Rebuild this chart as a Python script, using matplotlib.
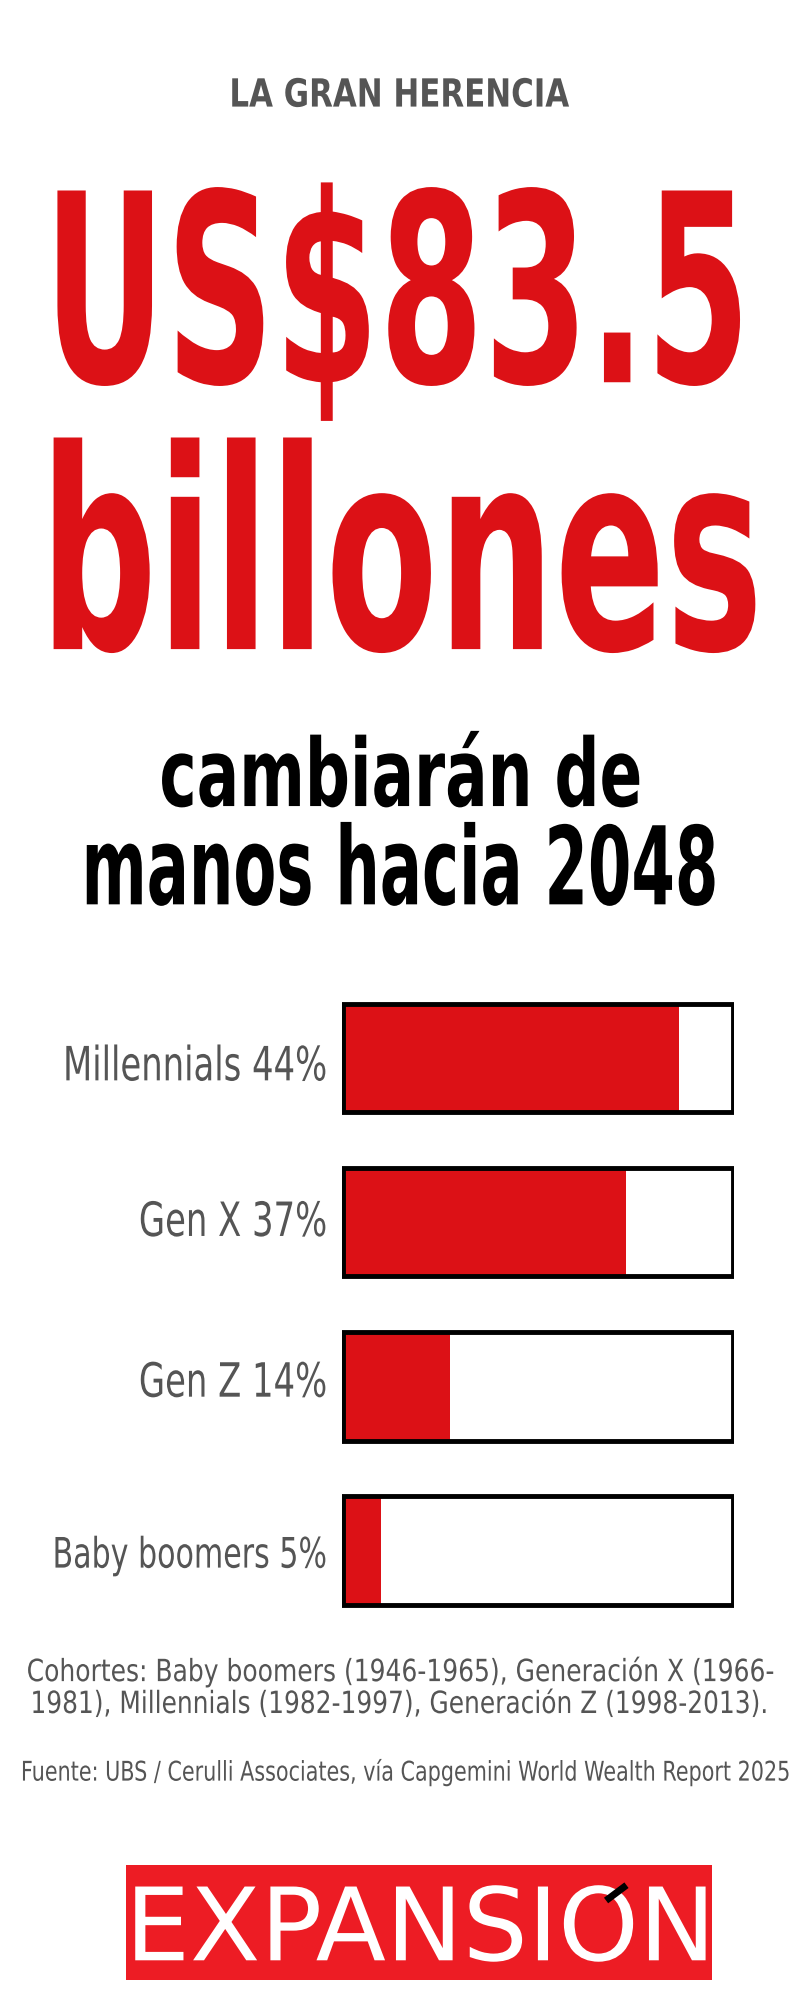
import matplotlib
matplotlib.use("Agg")
import matplotlib.pyplot as plt
from matplotlib.textpath import TextPath
from matplotlib.patches import PathPatch, Rectangle
from matplotlib.font_manager import FontProperties
from matplotlib.transforms import Affine2D

cohortes = ["Millennials", "Gen X", "Gen Z", "Baby boomers"]
porcentajes = [44, 37, 14, 5]
escala_max = 51

RED = "#dc1116"
GRAY = "#555555"
W, H = 627, 1568  # layout units of the reference

fig = plt.figure(figsize=(8, 20), dpi=100)
bg = fig.add_axes([0, 0, 1, 1])
bg.set_xlim(0, W)
bg.set_ylim(H, 0)
bg.axis("off")


def fit_text(ax, s, x0, x1, y0, y1, color, family="DejaVu Sans", weight="bold"):
    # stretch the outline of a text into a box
    fp = FontProperties(family=family, weight=weight)
    tp = TextPath((0, 0), s, size=100, prop=fp)
    ext = tp.get_extents()
    sx = (x1 - x0) / ext.width
    sy = (y1 - y0) / ext.height
    tr = Affine2D().translate(-ext.x0, -ext.y0).scale(sx, -sy).translate(x0, y1)
    ax.add_patch(PathPatch(tr.transform_path(tp), color=color, lw=0))


def line_text(ax, s, x0, x1, base, cap, color=GRAY, align="fit", weight="normal"):
    # text with given cap height; fills x0..x1 (fit) or right-aligned at x1 with squash x0
    fp = FontProperties(family="DejaVu Sans", weight=weight)
    caph = TextPath((0, 0), "H", size=100, prop=fp).get_extents().height
    tp = TextPath((0, 0), s, size=100, prop=fp)
    ext = tp.get_extents()
    sy = cap / caph
    if align == "fit":
        sx = (x1 - x0) / ext.width
        tr = Affine2D().translate(-ext.x0, 0).scale(sx, -sy).translate(x0, base)
    else:
        sx = sy * x0
        tr = Affine2D().translate(-ext.x1, 0).scale(sx, -sy).translate(x1, base)
    ax.add_patch(PathPatch(tr.transform_path(tp), color=color, lw=0))


fit_text(bg, "LA GRAN HERENCIA", 182, 446, 61, 84, GRAY)

fit_text(bg, "US$83.5", 45, 580, 143, 330, RED)
fit_text(bg, "billones", 42, 592, 343, 512, RED)
fit_text(bg, "cambiarán de", 127, 501, 573, 633, "black")
line_text(bg, "manos hacia 2048", 68, 560, 709, 62, "black", weight="bold")

# barras
ax = fig.add_axes([268 / W, 1 - 1262 / H, (575 - 268) / W, (1262 - 783) / H])
ypos = list(range(len(cohortes)))
ax.barh(ypos, porcentajes, height=0.66, color=RED, zorder=2)
ax.barh(ypos, [escala_max] * len(cohortes), height=0.66, facecolor="none",
        edgecolor="black", lw=3.5, zorder=3)
ax.set_xlim(-0.15, escala_max + 0.15)
ax.set_ylim(3.36, -0.36)
ax.axis("off")

# etiquetas (condensadas)
fp = FontProperties(family="DejaVu Sans")
etiquetas = [f"{c} {p}%" for c, p in zip(cohortes, porcentajes)]
ref = TextPath((0, 0), etiquetas[0], size=100, prop=fp)
caph = TextPath((0, 0), "H", size=100, prop=fp).get_extents().height
squash = (255 - 52) / (ref.get_extents().width * 27 / caph)
bases = [847, 969, 1095, 1229]
caps = [27, 27, 27, 24]
for lab, b, c in zip(etiquetas, bases, caps):
    line_text(bg, lab, squash, 255, b, c, align="right")

line_text(bg, "Cohortes: Baby boomers (1946-1965), Generación X (1966-", 22, 606, 1318, 17.5)
line_text(bg, "1981), Millennials (1982-1997), Generación Z (1998-2013).", 26, 600, 1343, 17.5)
line_text(bg, "Fuente: UBS / Cerulli Associates, vía Capgemini World Wealth Report 2025", 18, 618, 1396, 15.5)

# logo
bg.add_patch(Rectangle((99, 1462), 459, 90, color="#ed1c24", lw=0))
fit_text(bg, "EXPANSION", 106, 553, 1478, 1538, "white", family="DejaVu Sans", weight="normal")
bg.plot([475, 491], [1490, 1478], color="black", lw=5, solid_capstyle="butt")

fig.savefig("out.png", dpi=100)
